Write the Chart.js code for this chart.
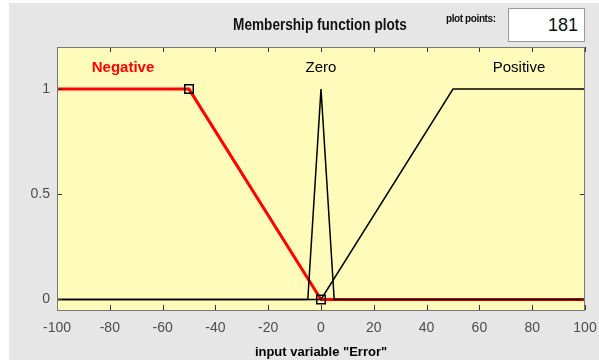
<!DOCTYPE html>
<html>
<head>
<meta charset="utf-8">
<script src="https://cdn.jsdelivr.net/npm/chart.js@4/dist/chart.umd.min.js"></script>
<style>
  html, body { margin: 0; padding: 0; background: #ffffff; }
  #wrap { position: relative; width: 599px; height: 360px; }
  #mfChart { position: absolute; left: 0; top: 0; }
  .hdr { position: absolute; font-family: "Liberation Sans", Arial, sans-serif; color: #111; }
  #title { left: 200px; width: 240px; top: 16px; text-align: center; font-size: 16px; font-weight: bold;
           transform: scaleX(0.85); transform-origin: 50% 50%; }
  #ppLabel { left: 446px; top: 13px; font-size: 10px; letter-spacing: -0.4px; font-weight: bold; }
  #ppBox { left: 508px; top: 8px; width: 75px; height: 32px; background: #fff; border: 1px solid #9a9a9a;
           font-size: 18px; text-align: right; line-height: 32px; box-sizing: content-box; }
  #ppBox span { padding-right: 6px; }
</style>
</head>
<body>
<div id="wrap">
  <canvas id="mfChart" width="599" height="360"></canvas>
  <div class="hdr" id="title">Membership function plots</div>
  <div class="hdr" id="ppLabel">plot points:</div>
  <div class="hdr" id="ppBox"><span>181</span></div>
</div>
<script>
// Membership functions of input variable "Error"
const negX = [-100, -50, 0, 100];
const negY = [1, 1, 0, 0];
const zeroX = [-100, -5, 0, 5, 100];
const zeroY = [0, 0, 1, 0, 0];
const posX = [-100, 0, 50, 100];
const posY = [0, 0, 1, 1];

const mfNames = ['Negative', 'Zero', 'Positive'];
const xTicks = [-100, -80, -60, -40, -20, 0, 20, 40, 60, 80, 100];
const yTicks = [0, 0.5, 1];
const plotPoints = 181;

const FONT = '"Liberation Sans", Arial, sans-serif';

function toPoints(xs, ys) {
    return xs.map((x, i) => ({ x: x, y: ys[i] }));
}

// middle of the part where membership is 1, used for the name labels
function peakCenter(xs, ys) {
    const top = xs.filter((x, i) => ys[i] === 1);
    return (Math.min(...top) + Math.max(...top)) / 2;
}

const mfSets = [
    { name: mfNames[0], xs: negX, ys: negY, color: '#ff0000' },
    { name: mfNames[1], xs: zeroX, ys: zeroY, color: '#000000' },
    { name: mfNames[2], xs: posX, ys: posY, color: '#000000' }
];

// background of figure and plot area, frame, inward ticks, mf names
const figurePlugin = {
    id: 'figure',
    beforeDraw(chart) {
        const ctx = chart.ctx;
        const a = chart.chartArea;
        ctx.save();
        ctx.fillStyle = '#e6e6e6';
        ctx.fillRect(9, 3, chart.width - 9, chart.height - 3);
        ctx.fillStyle = '#fffcbb';
        ctx.fillRect(a.left, a.top, a.right - a.left, a.bottom - a.top);
        ctx.restore();
    },
    afterDraw(chart) {
        const ctx = chart.ctx;
        const a = chart.chartArea;
        const xs = chart.scales.x;
        const ys = chart.scales.y;
        ctx.save();
        ctx.strokeStyle = '#333';
        ctx.lineWidth = 1;
        ctx.beginPath();
        xTicks.forEach(v => {
            const px = Math.round(xs.getPixelForValue(v)) + 0.5;
            ctx.moveTo(px, a.bottom); ctx.lineTo(px, a.bottom - 5);
            ctx.moveTo(px, a.top); ctx.lineTo(px, a.top + 5);
        });
        yTicks.forEach(v => {
            const py = Math.round(ys.getPixelForValue(v)) + 0.5;
            ctx.moveTo(a.left, py); ctx.lineTo(a.left + 5, py);
            ctx.moveTo(a.right, py); ctx.lineTo(a.right - 5, py);
        });
        ctx.stroke();
        ctx.strokeStyle = '#777';
        ctx.strokeRect(a.left + 0.5, a.top + 0.5, a.right - a.left - 1, a.bottom - a.top);

        ctx.textAlign = 'center';
        ctx.textBaseline = 'middle';
        mfSets.forEach((mf, i) => {
            ctx.fillStyle = mf.color;
            ctx.font = (i === 0 ? 'bold ' : '') + '15px ' + FONT;
            ctx.fillText(mf.name, xs.getPixelForValue(peakCenter(mf.xs, mf.ys)), ys.getPixelForValue(1.1));
        });
        ctx.restore();
    }
};

const ctx = document.getElementById('mfChart').getContext('2d');
const mfChart = new Chart(ctx, {
    type: 'line',
    data: {
        datasets: [
            {
                label: mfNames[0],
                data: toPoints(negX, negY),
                borderColor: '#ff0000',
                borderWidth: 3,
                pointStyle: 'rect',
                pointRadius: [0, 6, 6, 0],
                pointBorderColor: '#000',
                pointBorderWidth: 1.5,
                pointBackgroundColor: 'rgba(0,0,0,0)',
                order: 2
            },
            {
                label: mfNames[1],
                data: toPoints(zeroX, zeroY),
                borderColor: '#000',
                borderWidth: 1.5,
                pointRadius: 0,
                order: 1
            },
            {
                label: mfNames[2],
                data: toPoints(posX, posY),
                borderColor: '#000',
                borderWidth: 1.5,
                pointRadius: 0,
                order: 1
            }
        ]
    },
    options: {
        responsive: false,
        animation: false,
        layout: { padding: { left: 0, top: 47, right: 14, bottom: 0 } },
        plugins: { legend: { display: false }, tooltip: { enabled: false } },
        elements: { line: { tension: 0 } },
        scales: {
            x: {
                type: 'linear',
                min: -100,
                max: 100,
                afterBuildTicks: s => { s.ticks = xTicks.map(v => ({ value: v })); },
                afterFit: s => { s.height = 50; s.paddingLeft = 0; s.paddingRight = 0; },
                grid: { display: false, drawTicks: false },
                border: { display: false },
                ticks: { color: '#4d4d4d', padding: 10, font: { family: FONT, size: 14 } },
                title: {
                    display: true,
                    text: 'input variable "Error"',
                    color: '#000',
                    padding: { top: 0, bottom: 0 },
                    font: { family: FONT, size: 13, weight: 'bold' }
                }
            },
            y: {
                type: 'linear',
                min: -0.05,
                max: 1.2,
                afterBuildTicks: s => { s.ticks = yTicks.map(v => ({ value: v })); },
                afterFit: s => { s.width = 57; s.paddingTop = 0; s.paddingBottom = 0; },
                grid: { display: false, drawTicks: false },
                border: { display: false },
                ticks: { color: '#4d4d4d', padding: 7, font: { family: FONT, size: 14 },
                         callback: v => String(v) }
            }
        }
    },
    plugins: [figurePlugin]
});
</script>
</body>
</html>
